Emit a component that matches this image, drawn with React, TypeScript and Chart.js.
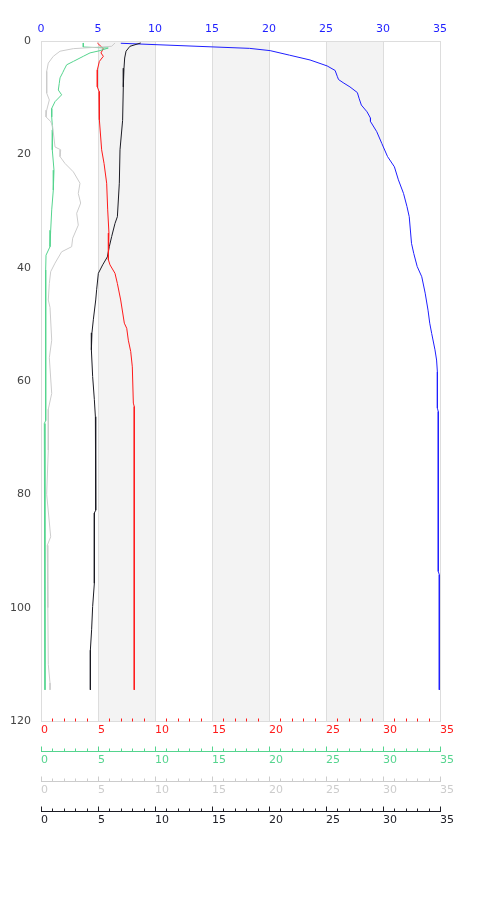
import React, { useEffect, useRef } from 'react';
import { Chart, registerables } from 'chart.js';

Chart.register(...registerables);

// ---- Data (depth vs value) ----
const blueDepth = [0.4, 1.3, 1.7, 2.5, 3.35, 4.4, 5.2, 6.3, 6.8, 7.35, 8.1, 9.1, 10.1, 11.3, 12.5, 13.6, 14.2, 16.0, 18.1, 20.4, 22.2, 24.5, 26.9, 29.2, 31.0, 35.7, 37.5, 39.8, 41.6, 44.5, 47.5, 49.8, 51.6, 54.5, 56.3, 58.4, 64.8, 65.4, 93.6, 94.2, 114.5];
const blueValue = [7.0, 18.3, 20.1, 21.8, 23.6, 25.1, 25.8, 26.0, 26.1, 26.5, 27.1, 27.75, 27.9, 28.1, 28.6, 28.9, 28.9, 29.45, 29.9, 30.4, 31.0, 31.35, 31.8, 32.1, 32.3, 32.5, 32.7, 33.0, 33.4, 33.7, 33.95, 34.1, 34.27, 34.56, 34.7, 34.77, 34.77, 34.85, 34.85, 34.94, 34.94];

const redDepth = [0.35, 1.35, 2.1, 2.7, 3.6, 5.1, 8.1, 8.9, 13.9, 19.2, 21.6, 25.1, 29.8, 33.9, 38.6, 39.5, 41.0, 42.8, 45.7, 49.8, 50.7, 52.8, 54.8, 57.5, 63.9, 64.5, 114.5];
const redValue = [4.94, 5.47, 5.26, 5.47, 5.12, 4.94, 4.94, 5.09, 5.12, 5.32, 5.53, 5.76, 5.85, 5.96, 5.91, 6.05, 6.49, 6.7, 6.99, 7.31, 7.52, 7.66, 7.87, 8.01, 8.1, 8.18, 8.18];

const blackDepth = [0.35, 0.94, 1.8, 3.0, 4.8, 8.1, 14.0, 19.2, 25.1, 31.0, 32.2, 34.5, 36.3, 38.1, 39.5, 41.0, 43.9, 45.7, 49.2, 51.5, 54.5, 59.2, 63.3, 66.3, 82.8, 83.3, 95.7, 99.8, 103.9, 107.5, 114.5];
const blackValue = [8.75, 7.8, 7.46, 7.34, 7.28, 7.22, 7.16, 6.93, 6.87, 6.7, 6.49, 6.2, 5.99, 5.82, 5.41, 5.03, 4.88, 4.8, 4.59, 4.47, 4.42, 4.53, 4.68, 4.77, 4.8, 4.68, 4.68, 4.53, 4.44, 4.33, 4.33];

const greenDepth = [0.35, 1.06, 1.24, 1.7, 2.1, 2.7, 3.6, 4.2, 5.1, 5.6, 6.5, 7.5, 8.65, 9.5, 10.7, 11.9, 13.4, 15.7, 19.2, 22.8, 26.3, 29.8, 33.4, 36.3, 37.8, 40.4, 67.0, 67.5, 114.5];
const greenValue = [3.71, 3.71, 5.9, 5.18, 4.3, 3.71, 2.84, 2.25, 2.02, 1.9, 1.67, 1.6, 1.52, 1.81, 1.23, 0.94, 0.94, 1.02, 0.99, 1.14, 1.08, 0.94, 0.85, 0.79, 0.44, 0.41, 0.41, 0.29, 0.35];

const grayDepth = [0.35, 0.94, 1.35, 1.8, 2.7, 3.9, 5.35, 6.9, 9.2, 10.4, 12.2, 13.4, 14.2, 15.1, 18.7, 19.2, 20.4, 21.6, 23.1, 25.1, 26.9, 28.6, 30.4, 32.5, 34.8, 36.3, 37.2, 39.2, 40.7, 42.8, 45.7, 47.0, 52.8, 55.9, 62.2, 65.0, 72.2, 80.0, 87.5, 89.0, 100.0, 110.0, 113.3, 114.5];
const grayValue = [6.49, 6.2, 2.84, 1.67, 1.08, 0.64, 0.5, 0.5, 0.5, 0.73, 0.5, 0.44, 0.85, 1.02, 1.23, 1.73, 1.67, 2.1, 2.84, 3.42, 3.27, 3.48, 3.13, 3.27, 2.78, 2.69, 1.81, 1.23, 0.85, 0.73, 0.64, 0.79, 0.94, 0.73, 0.94, 0.64, 0.64, 0.5, 0.85, 0.55, 0.6, 0.64, 0.79, 0.79];

const X_MIN = 0;
const X_MAX = 35;
const X_STEP = 5;
const Y_MIN = 0;
const Y_MAX = 120;
const Y_STEP = 20;
const BANDS = [[5, 10], [15, 20], [25, 30]];

const BLUE = '#1f1fff';
const RED = '#ff1a1a';
const GREEN = '#55d48e';
const GRAY = '#cccccc';
const BLACK = '#1c1c24';
const FONT = { family: 'DejaVu Sans', size: 11 };

function pts(d: number[], v: number[]) {
  return d.map((y, i) => ({ x: v[i], y }));
}

const bgPlugin = {
  id: 'bgBands',
  beforeDraw(chart: any) {
    const { ctx, chartArea } = chart;
    const { left, right, top, bottom } = chartArea;
    const xs = chart.scales.xRed;
    ctx.save();
    ctx.fillStyle = '#f3f3f3';
    for (const [a, b] of BANDS) {
      const x1 = Math.round(xs.getPixelForValue(a));
      const x2 = Math.round(xs.getPixelForValue(b));
      ctx.fillRect(x1, top, x2 - x1, bottom - top);
    }
    ctx.strokeStyle = '#dddddd';
    ctx.lineWidth = 1;
    for (let v = X_MIN + X_STEP; v < X_MAX; v += X_STEP) {
      const x = Math.round(xs.getPixelForValue(v)) + 0.5;
      ctx.beginPath();
      ctx.moveTo(x, top);
      ctx.lineTo(x, bottom);
      ctx.stroke();
    }
    ctx.strokeRect(Math.round(left) + 0.5, Math.round(top) + 0.5, Math.round(right - left), Math.round(bottom - top));
    ctx.restore();
  },
};

const tickPlugin = {
  id: 'bottomTicks',
  afterDraw(chart: any) {
    const { ctx } = chart;
    const axes = [
      { id: 'xRed', color: RED, line: false, majors: false },
      { id: 'xGreen', color: GREEN, line: true, majors: true },
      { id: 'xGray', color: GRAY, line: true, majors: true },
      { id: 'xBlack', color: BLACK, line: true, majors: true },
    ];
    ctx.save();
    ctx.lineWidth = 1;
    for (const a of axes) {
      const s = chart.scales[a.id];
      const y = Math.round(s.top) + 0.5;
      ctx.strokeStyle = a.color;
      if (a.line) {
        ctx.beginPath();
        ctx.moveTo(Math.round(s.left), y);
        ctx.lineTo(Math.round(s.right) + 1, y);
        ctx.stroke();
      }
      for (let v = X_MIN; v <= X_MAX; v += 1) {
        const major = v % X_STEP === 0;
        if (major && !a.majors) continue;
        const len = major ? 5 : 3;
        const x = Math.round(s.getPixelForValue(v)) + 0.5;
        ctx.beginPath();
        ctx.moveTo(x, y);
        ctx.lineTo(x, y - len);
        ctx.stroke();
      }
    }
    ctx.restore();
  },
};

function xScale(position: string, color: string, weight: number, padding: number, height: number, align: string) {
  return {
    type: 'linear',
    axis: 'x',
    position,
    weight,
    min: X_MIN,
    max: X_MAX,
    grid: { display: false, drawTicks: false },
    border: { display: false },
    ticks: { stepSize: X_STEP, color, font: FONT, padding, maxRotation: 0, align },
    afterFit: (s: any) => {
      s.height = height;
    },
  };
}

export default function App() {
  const ref = useRef<HTMLCanvasElement>(null);
  useEffect(() => {
    if (!ref.current) return;
    const ds = (label: string, d: number[], v: number[], color: string, axis: string) => ({
      label,
      data: pts(d, v),
      xAxisID: axis,
      yAxisID: 'y',
      borderColor: color,
      backgroundColor: color,
      borderWidth: 1,
      pointRadius: 0,
      showLine: true,
      tension: 0,
      fill: false,
    });
    const chart = new Chart(ref.current, {
      type: 'scatter',
      data: {
        datasets: [
          ds('gray', grayDepth, grayValue, GRAY, 'xGray'),
          ds('green', greenDepth, greenValue, GREEN, 'xGreen'),
          ds('red', redDepth, redValue, RED, 'xRed'),
          ds('black', blackDepth, blackValue, BLACK, 'xBlack'),
          ds('blue', blueDepth, blueValue, BLUE, 'xBlue'),
        ],
      },
      options: {
        responsive: false,
        maintainAspectRatio: false,
        animation: false,
        devicePixelRatio: 1,
        layout: { padding: { left: 0, right: 32, top: 0, bottom: 51 } },
        plugins: { legend: { display: false }, tooltip: { enabled: false } },
        scales: {
          xBlue: xScale('top', BLUE, 0, 5, 33, 'center'),
          xRed: xScale('bottom', RED, 0, 3, 30, 'start'),
          xGreen: xScale('bottom', GREEN, 1, 3, 30, 'start'),
          xGray: xScale('bottom', GRAY, 2, 3, 30, 'start'),
          xBlack: xScale('bottom', BLACK, 3, 3, 30, 'start'),
          y: {
            type: 'linear',
            position: 'left',
            reverse: true,
            min: Y_MIN,
            max: Y_MAX,
            grid: { display: false, drawTicks: false },
            border: { display: false },
            ticks: { stepSize: Y_STEP, color: '#444444', font: FONT, padding: 10 },
            afterFit: (s: any) => {
              s.width = 33;
            },
          },
        } as any,
      },
      plugins: [bgPlugin, tickPlugin],
    } as any);
    return () => chart.destroy();
  }, []);
  return (
    <div style={{ width: 464, height: 884 }}>
      <canvas ref={ref} width={464} height={884} style={{ display: 'block' }} />
    </div>
  );
}
